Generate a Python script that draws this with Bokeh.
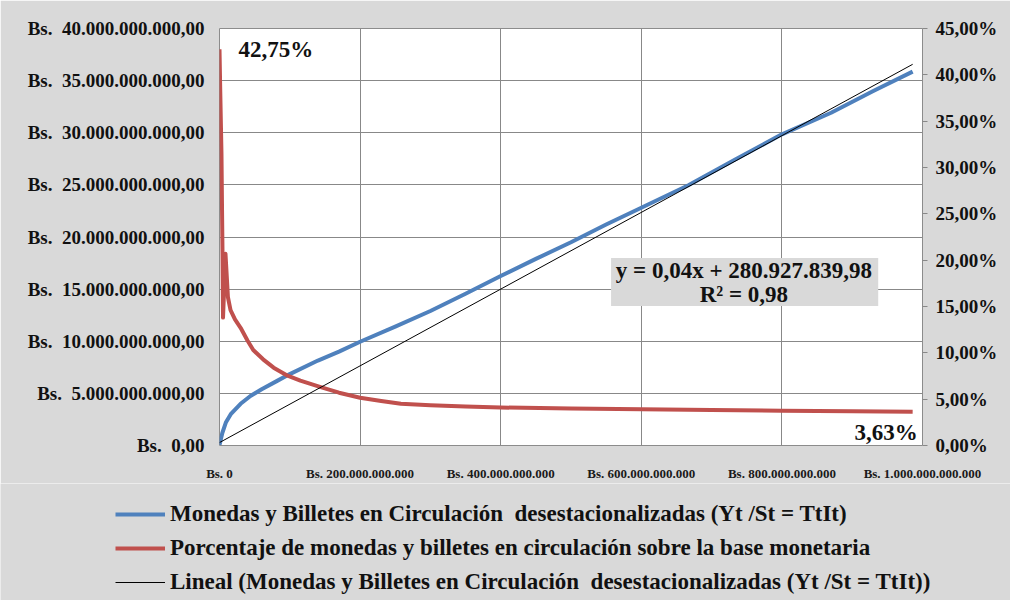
from bokeh.plotting import figure
from bokeh.models import (Range1d, LinearAxis, FixedTicker, Legend, LegendItem,
                          Label, BoxAnnotation)
from bokeh.embed import file_html
from bokeh.resources import INLINE

BN = 1e9  # values below are written in billions of Bs.

# Monedas y Billetes en Circulación desestacionalizadas (left axis, Bs.)
blue_x_bn = [0, 4, 9, 16, 30, 44, 60, 82, 100, 140, 170, 200, 250, 300, 350, 400,
             450, 500, 550, 600, 667, 733, 800, 870, 930, 986]
blue_y_bn = [0.05, 1.2, 2.2, 3.0, 4.0, 4.75, 5.4, 6.2, 6.85, 8.15, 9.0, 9.95, 11.4,
             12.9, 14.55, 16.26, 17.9, 19.5, 21.2, 22.81, 24.96, 27.4, 29.85, 31.92,
             34.0, 35.86]

# Porcentaje de monedas y billetes en circulación sobre la base monetaria (right axis, %)
red_x_bn = [0, 1, 2.8, 3.6, 4.3, 5, 8.5, 12, 15.7, 22, 30, 40, 48, 62, 77, 95, 115,
            144, 170, 200, 230, 258, 300, 350, 400, 500, 600, 700, 800, 900, 986]
red_pct = [42.75, 38.5, 31.5, 25.5, 20.7, 13.8, 20.7, 16.0, 14.6, 13.6, 12.7, 11.3,
           10.3, 9.3, 8.4, 7.6, 7.0, 6.3, 5.7, 5.16, 4.8, 4.5, 4.35, 4.2, 4.1, 3.98,
           3.9, 3.83, 3.76, 3.69, 3.63]

# Linear trend of the blue series
trend_slope = 0.0368
trend_intercept = 280927839.98
eq_text = "y = 0,04x + 280.927.839,98"
r2_text = "R² = 0,98"

x_ticks = [0, 200e9, 400e9, 600e9, 800e9, 1000e9]
x_tick_labels = ["Bs. 0", "Bs. 200.000.000.000", "Bs. 400.000.000.000",
                 "Bs. 600.000.000.000", "Bs. 800.000.000.000", "Bs. 1.000.000.000.000"]
left_ticks = [0, 5e9, 10e9, 15e9, 20e9, 25e9, 30e9, 35e9, 40e9]
left_tick_labels = ["Bs. \u00a00,00", "Bs. \u00a05.000.000.000,00",
                    "Bs. \u00a010.000.000.000,00", "Bs. \u00a015.000.000.000,00",
                    "Bs. \u00a020.000.000.000,00", "Bs. \u00a025.000.000.000,00",
                    "Bs. \u00a030.000.000.000,00", "Bs. \u00a035.000.000.000,00",
                    "Bs. \u00a040.000.000.000,00"]
right_ticks = [0, 5, 10, 15, 20, 25, 30, 35, 40, 45]
right_tick_labels = ["0,00%", "5,00%", "10,00%", "15,00%", "20,00%", "25,00%",
                     "30,00%", "35,00%", "40,00%", "45,00%"]
legend_labels = [
    "Monedas y Billetes en Circulación  desestacionalizadas (Yt /St = TtIt)",
    "Porcentaje de monedas y billetes en circulación sobre la base monetaria",
    "Lineal (Monedas y Billetes en Circulación  desestacionalizadas (Yt /St = TtIt))",
]

FONT = "Liberation Serif"
BLUE = "#4f81bd"
RED = "#c0504d"
GRID = "#888888"
TXT = "#111111"
BG = "#d9d9d9"

p = figure(width=1010, height=483, x_range=Range1d(0, 1e12), y_range=Range1d(0, 40e9),
           output_backend="svg", toolbar_location=None,
           min_border_left=219, min_border_right=88, min_border_top=28,
           min_border_bottom=38, border_fill_color=BG,
           background_fill_color="white", outline_line_color="#8c8c8c")

p.extra_y_ranges = {"pct": Range1d(0, 45)}

# x axis
xa = p.xaxis[0]
xa.ticker = FixedTicker(ticks=x_ticks)
xa.major_label_overrides = {int(t): l for t, l in zip(x_ticks, x_tick_labels)}
xa.axis_line_color = None
xa.major_tick_line_color = None
xa.minor_tick_line_color = None
xa.major_label_standoff = 14
xa.major_label_text_font = FONT
xa.major_label_text_font_style = "bold"
xa.major_label_text_font_size = "13px"
xa.major_label_text_color = "#1a1a1a"

# left axis
ya = p.yaxis[0]
ya.ticker = FixedTicker(ticks=left_ticks)
ya.major_label_overrides = {int(t): l for t, l in zip(left_ticks, left_tick_labels)}
ya.axis_line_color = None
ya.major_tick_line_color = None
ya.minor_tick_line_color = None
ya.major_label_standoff = 9
ya.major_label_text_font = FONT
ya.major_label_text_font_style = "bold"
ya.major_label_text_font_size = "19px"
ya.major_label_text_color = TXT

# right axis
ra = LinearAxis(y_range_name="pct", ticker=FixedTicker(ticks=right_ticks))
ra.major_label_overrides = {int(t): l for t, l in zip(right_ticks, right_tick_labels)}
ra.axis_line_color = None
ra.major_tick_line_color = GRID
ra.major_tick_out = 5
ra.major_tick_in = 0
ra.minor_tick_line_color = None
ra.major_label_standoff = 8
ra.major_label_text_font = FONT
ra.major_label_text_font_style = "bold"
ra.major_label_text_font_size = "19px"
ra.major_label_text_color = TXT
p.add_layout(ra, "right")

p.xgrid.grid_line_color = GRID
p.ygrid.grid_line_color = GRID

bx = [v * BN for v in blue_x_bn]
by = [v * BN for v in blue_y_bn]
rx = [v * BN for v in red_x_bn]
tx = [bx[0], bx[-1]]
ty = [trend_slope * v + trend_intercept for v in tx]

r_blue = p.line(bx, by, line_color=BLUE, line_width=4, line_join="round")
r_red = p.line(rx, red_pct, y_range_name="pct", line_color=RED, line_width=4,
               line_join="round")
r_trend = p.line(tx, ty, line_color="black", line_width=1)

# equation box
p.add_layout(BoxAnnotation(left=557e9, right=937e9, bottom=13.38e9, top=17.99e9,
                           fill_color=BG, fill_alpha=1, line_color=None))
for txt, yv in [(eq_text, 16.74e9), (r2_text, 14.53e9)]:
    p.add_layout(Label(x=746e9, y=yv, text=txt, text_align="center",
                       text_baseline="middle", text_font=FONT,
                       text_font_style="bold", text_font_size="23px",
                       text_color=TXT))

# max / last value labels
p.add_layout(Label(x=rx[0], y=red_pct[0], y_range_name="pct", x_offset=19,
                   text=f"{red_pct[0]:.2f}%".replace(".", ","), text_baseline="middle",
                   text_font=FONT, text_font_style="bold", text_font_size="23px",
                   text_color=TXT))
p.add_layout(Label(x=rx[-1], y=red_pct[-1], y_range_name="pct", x_offset=5,
                   y_offset=-21, text=f"{red_pct[-1]:.2f}%".replace(".", ","),
                   text_align="right", text_baseline="middle",
                   text_font=FONT, text_font_style="bold", text_font_size="23px",
                   text_color=TXT))

# legend panel below the chart (separate root so its frame spans the full width)
q = figure(width=1010, height=117, x_range=Range1d(0, 1), y_range=Range1d(0, 1),
           output_backend="svg", toolbar_location=None,
           min_border_left=0, min_border_right=0, min_border_top=0,
           min_border_bottom=0, border_fill_color=BG, background_fill_color=BG,
           outline_line_color=None)
q.axis.visible = False
q.grid.visible = False
l_blue = q.line([0, 1], [-5, -5], line_color=BLUE, line_width=4)
l_red = q.line([0, 1], [-5, -5], line_color=RED, line_width=4)
l_trend = q.line([0, 1], [-5, -5], line_color="black", line_width=1)

legend = Legend(items=[LegendItem(label=legend_labels[0], renderers=[l_blue]),
                       LegendItem(label=legend_labels[1], renderers=[l_red]),
                       LegendItem(label=legend_labels[2], renderers=[l_trend])],
                location=(115, 5), glyph_width=50, glyph_height=20,
                label_height=20, spacing=8, padding=0, margin=0,
                border_line_color=None, background_fill_alpha=0,
                label_text_font=FONT, label_text_font_style="bold",
                label_text_font_size="23px", label_standoff=5,
                label_text_color=TXT)
q.add_layout(legend)

open("out.html", "w").write(file_html([p, q], INLINE))
